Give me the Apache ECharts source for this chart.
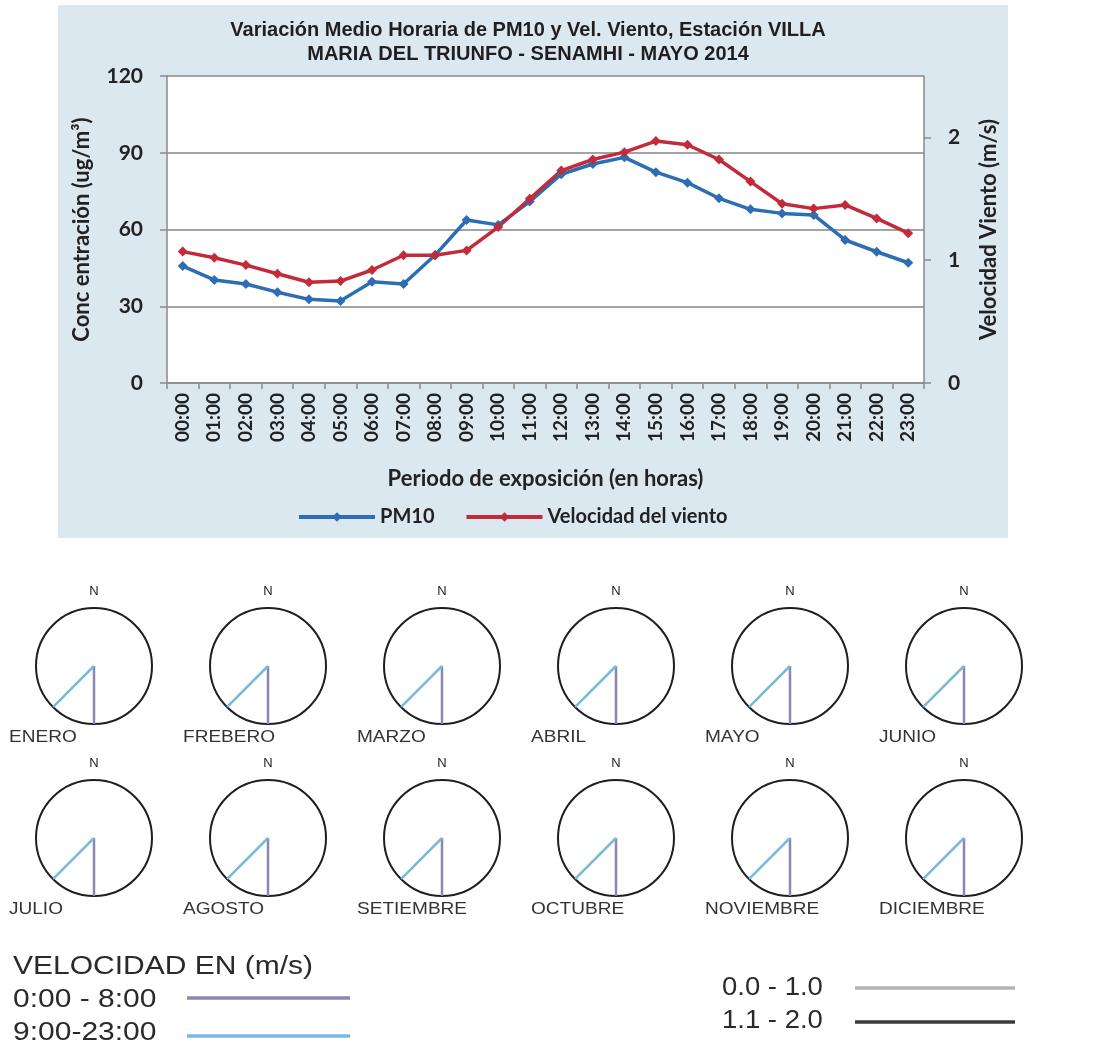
<!DOCTYPE html>
<html>
<head>
<meta charset="utf-8">
<script src="https://cdn.jsdelivr.net/npm/echarts@6/dist/echarts.min.js"></script>
<style>
  html, body { margin: 0; padding: 0; background: #ffffff; }
  #chart { width: 1099px; height: 1050px; }
</style>
</head>
<body>
<div id="chart"></div>
<script>
// Hourly means, May 2014
const hours = ['00:00','01:00','02:00','03:00','04:00','05:00','06:00','07:00','08:00','09:00','10:00','11:00',
               '12:00','13:00','14:00','15:00','16:00','17:00','18:00','19:00','20:00','21:00','22:00','23:00'];
const pm10 = [45.7, 40.3, 38.7, 35.5, 32.7, 32.1, 39.6, 38.7, 50.0, 63.7, 61.8, 70.9,
              81.6, 85.6, 88.2, 82.4, 78.3, 72.2, 67.9, 66.3, 65.7, 55.9, 51.3, 47.0];
const windSpeed = [1.07, 1.02, 0.96, 0.89, 0.82, 0.83, 0.92, 1.04, 1.04, 1.08, 1.27, 1.50,
                   1.73, 1.82, 1.88, 1.97, 1.94, 1.82, 1.64, 1.46, 1.42, 1.45, 1.34, 1.22];
const windTicks = [0, 1, 2];

// Monthly prevailing wind roses (direction in degrees clockwise from north, length relative to the ring)
const months = ['ENERO','FREBERO','MARZO','ABRIL','MAYO','JUNIO',
                'JULIO','AGOSTO','SETIEMBRE','OCTUBRE','NOVIEMBRE','DICIEMBRE'];
const dirNight = [180, 180, 180, 180, 180, 180, 180, 180, 180, 180, 180, 180];
const dirDay   = [225, 225, 225, 225, 225, 225, 225, 225, 225, 225, 225, 225];
const lenNight = [1, 1, 1, 1, 1, 1, 1, 1, 1, 1, 1, 1];
const lenDay   = [1, 1, 1, 1, 1, 1, 1, 1, 1, 1, 1, 1];

const nightColor = '#8c86b4';
const dayColor = '#78b9dc';
const blue = '#2d6db3';
const red = '#c32a3a';
const axisFont = 'Lato';
const plainFont = '"Liberation Sans", Arial, sans-serif';

// layout of the rose grid
const roseCols = [94, 268, 442, 616, 790, 964];
const roseRows = [666, 838];
const roseR = 58;

const polar = [], angleAxis = [], radiusAxis = [], roseSeries = [], graphics = [];

graphics.push({
  type: 'rect', z: -10, silent: true,
  shape: { x: 58, y: 5, width: 950, height: 533 },
  style: { fill: '#dbe8f0' }
});

months.forEach((m, i) => {
  const cx = roseCols[i % 6];
  const cy = roseRows[Math.floor(i / 6)];
  polar.push({ center: [cx, cy], radius: roseR });
  angleAxis.push({
    polarIndex: i, type: 'value', min: 0, max: 360, startAngle: 90, clockwise: true,
    axisLine: { show: true, lineStyle: { color: '#1e1e1e', width: 2 } },
    axisTick: { show: false }, axisLabel: { show: false }, splitLine: { show: false }
  });
  radiusAxis.push({
    polarIndex: i, type: 'value', min: 0, max: 1, show: false,
    axisLine: { show: false }, axisTick: { show: false }, axisLabel: { show: false }, splitLine: { show: false }
  });
  roseSeries.push({
    type: 'line', coordinateSystem: 'polar', polarIndex: i, name: '0:00 - 8:00',
    symbol: 'none', silent: true, animation: false,
    lineStyle: { color: nightColor, width: 2.5 },
    data: [[0, dirNight[i]], [lenNight[i], dirNight[i]]]
  });
  roseSeries.push({
    type: 'line', coordinateSystem: 'polar', polarIndex: i, name: '9:00-23:00',
    symbol: 'none', silent: true, animation: false,
    lineStyle: { color: dayColor, width: 2.5 },
    data: [[0, dirDay[i]], [lenDay[i], dirDay[i]]]
  });
  graphics.push({
    type: 'text', x: cx, y: cy - 75, silent: true,
    style: { text: 'N', font: '13px ' + plainFont, fill: '#222', align: 'center', verticalAlign: 'middle' }
  });
  graphics.push({
    type: 'text', x: cx - 85, y: cy + 71, silent: true, scaleX: 1.12,
    style: { text: m, font: '17px ' + plainFont, fill: '#333', align: 'left', verticalAlign: 'middle' }
  });
});

// legend of the roses
const legendText = (t, x, y, sx) => ({
  type: 'text', x: x, y: y, silent: true, scaleX: sx,
  style: { text: t, font: '25px ' + plainFont, fill: '#2a2a2a', align: 'left', verticalAlign: 'middle' }
});
const legendLine = (x1, x2, y, color) => ({
  type: 'line', silent: true,
  shape: { x1: x1, y1: y, x2: x2, y2: y },
  style: { stroke: color, lineWidth: 3.5 }
});
graphics.push(legendText('VELOCIDAD EN (m/s)', 13, 967, 1.2));
graphics.push(legendText('0:00 - 8:00', 13, 1000, 1.2));
graphics.push(legendText('9:00-23:00', 13, 1033, 1.2));
graphics.push(legendLine(187, 350, 998, nightColor));
graphics.push(legendLine(187, 350, 1036, dayColor));
graphics.push(legendText('0.0 - 1.0', 722, 988, 1.1));
graphics.push(legendText('1.1 - 2.0', 722, 1021, 1.1));
graphics.push(legendLine(855, 1015, 988, '#b4b4b4'));
graphics.push(legendLine(855, 1015, 1022, '#3a3a3a'));

const option = {
  animation: false,
  backgroundColor: '#ffffff',
  title: {
    text: 'Variación Medio Horaria de PM10 y Vel. Viento, Estación VILLA\nMARIA DEL TRIUNFO - SENAMHI - MAYO 2014',
    left: 523, top: 13, textAlign: 'center',
    textStyle: { fontFamily: plainFont, fontWeight: 'bold', fontSize: 20, lineHeight: 24, color: '#1f1f1f' }
  },
  legend: {
    data: ['PM10', 'Velocidad del viento'],
    left: 292, top: 502,
    itemWidth: 76, itemHeight: 12, itemGap: 30,
    lineStyle: { width: 4 },
    textStyle: { fontFamily: axisFont, fontWeight: 'bold', fontSize: 20, color: '#222' }
  },
  grid: {
    left: 167, right: 175, top: 76, bottom: 667,
    show: true, backgroundColor: '#ffffff', borderWidth: 0
  },
  xAxis: {
    type: 'category', data: hours, boundaryGap: true,
    name: 'Periodo de exposición (en horas)', nameLocation: 'middle', nameGap: 85,
    nameTextStyle: { fontFamily: axisFont, fontWeight: 'bold', fontSize: 22, color: '#222' },
    axisLine: { lineStyle: { color: '#8a8a8a', width: 1.5 } },
    axisTick: { show: true, interval: 0, length: 6, lineStyle: { color: '#8a8a8a', width: 1.5 } },
    axisLabel: { interval: 0, rotate: 90, margin: 10, fontFamily: axisFont, fontWeight: 'bold', fontSize: 19, color: '#222' }
  },
  yAxis: [{
    type: 'value', min: 0, max: 120, interval: 30, position: 'left',
    name: 'Conc entración (ug/m³)', nameLocation: 'middle', nameRotate: 90, nameGap: 74,
    nameTextStyle: { fontFamily: axisFont, fontWeight: 'bold', fontSize: 22, color: '#222', padding: [0, 0, 0, 0] },
    axisLine: { show: true, lineStyle: { color: '#8a8a8a', width: 1.5 } },
    axisTick: { show: true, length: 7, lineStyle: { color: '#8a8a8a', width: 1.5 } },
    axisLabel: { margin: 24, fontFamily: axisFont, fontWeight: 'bold', fontSize: 21, color: '#222' },
    splitLine: { show: true, lineStyle: { color: '#a3a3a3', width: 1.8 } }
  }, {
    type: 'value', min: 0, max: 2.5, interval: 1, position: 'right',
    name: 'Velocidad Viento (m/s)', nameLocation: 'middle', nameRotate: 90, nameGap: 54,
    nameTextStyle: { fontFamily: axisFont, fontWeight: 'bold', fontSize: 22, color: '#222' },
    axisLine: { show: true, lineStyle: { color: '#8a8a8a', width: 1.5 } },
    axisTick: { show: true, length: 7, customValues: windTicks, lineStyle: { color: '#8a8a8a', width: 1.5 } },
    axisLabel: { margin: 24, customValues: windTicks, fontFamily: axisFont, fontWeight: 'bold', fontSize: 21, color: '#222' },
    splitLine: { show: false }
  }],
  polar: polar,
  angleAxis: angleAxis,
  radiusAxis: radiusAxis,
  graphic: graphics,
  series: [{
    name: 'PM10', type: 'line', yAxisIndex: 0, data: pm10,
    symbol: 'diamond', symbolSize: 10,
    lineStyle: { color: blue, width: 3.5 }, itemStyle: { color: blue }
  }, {
    name: 'Velocidad del viento', type: 'line', yAxisIndex: 1, data: windSpeed,
    symbol: 'diamond', symbolSize: 10,
    lineStyle: { color: red, width: 3.5 }, itemStyle: { color: red }
  }].concat(roseSeries)
};

const chart = echarts.init(document.getElementById('chart'), null, { renderer: 'canvas' });
chart.setOption(option);
</script>
</body>
</html>
